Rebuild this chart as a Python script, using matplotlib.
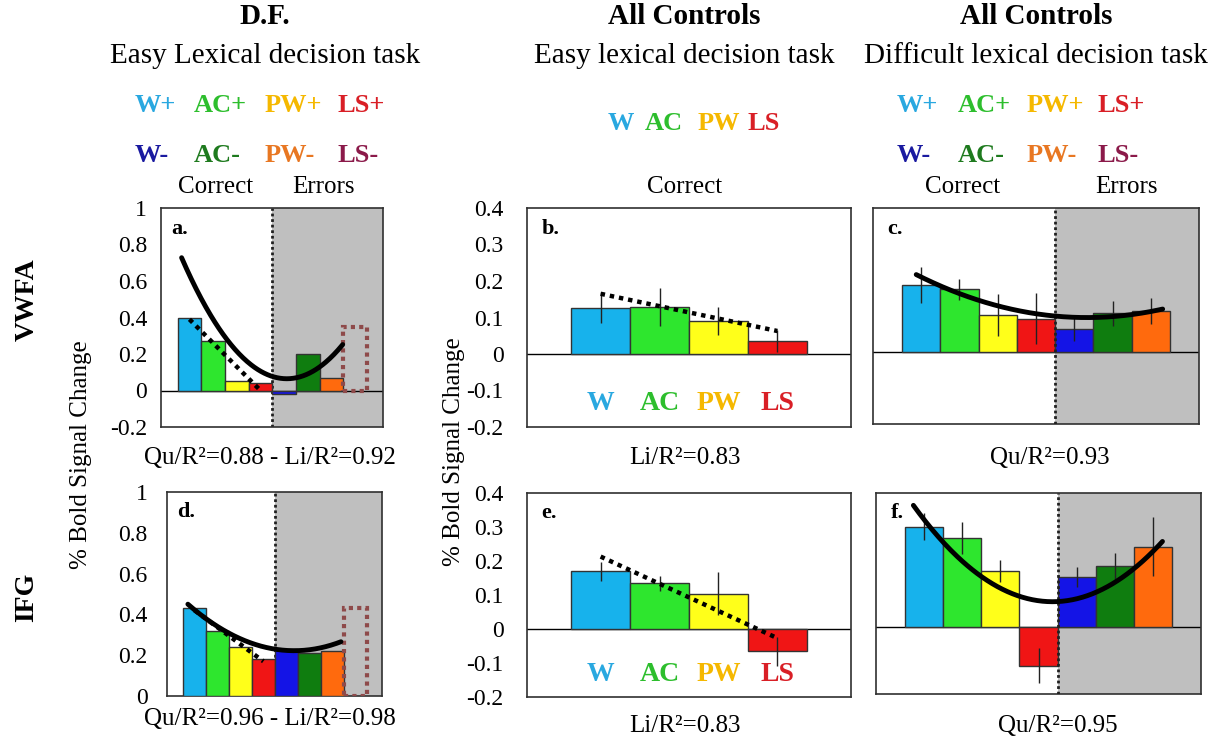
import numpy as np
import matplotlib
matplotlib.use('Agg')
import matplotlib.pyplot as plt

plt.rcParams['font.family'] = ['Liberation Serif', 'DejaVu Serif']

# ---------------- data ----------------
cond7 = ['W+', 'AC+', 'PW+', 'LS+', 'W-', 'AC-', 'PW-']
cond_minus = ['W-', 'AC-', 'PW-', 'LS-']
cond4 = ['W', 'AC', 'PW', 'LS']

# a. D.F. VWFA (easy task)
a_vals = [0.40, 0.27, 0.05, 0.04, -0.02, 0.20, 0.07]
a_ls_minus = 0.35
a_quad_x = [-0.33, 1.46, 4.03, 6.47]
a_quad_y = [0.715, 0.33, 0.04, 0.26]
a_lin_x = [0, 3]
a_lin_y = [0.39, 0.0]

# d. D.F. IFG (easy task)
d_vals = [0.43, 0.32, 0.24, 0.18, 0.23, 0.21, 0.22]
d_ls_minus = 0.43
d_quad_x = [-0.29, 1.52, 4.42, 6.38]
d_quad_y = [0.45, 0.307, 0.222, 0.266]
d_lin_x = [0, 3]
d_lin_y = [0.42, 0.17]

# b. All controls VWFA (easy task)
b_vals = [0.127, 0.130, 0.091, 0.036]
b_err = [0.043, 0.052, 0.038, 0.030]
b_lin_x = [0, 3]
b_lin_y = [0.165, 0.063]

# e. All controls IFG (easy task)
e_vals = [0.170, 0.134, 0.104, -0.066]
e_err = [0.028, 0.023, 0.064, 0.043]
e_lin_x = [0, 3]
e_lin_y = [0.213, -0.027]

# c. All controls VWFA (difficult task)
c_vals = [0.185, 0.174, 0.103, 0.093, 0.065, 0.107, 0.114]
c_err = [0.050, 0.030, 0.058, 0.070, 0.035, 0.035, 0.035]
c_quad_x = [-0.13, 1.0, 3.96, 6.31]
c_quad_y = [0.205, 0.179, 0.086, 0.123]

# f. All controls IFG (difficult task)
f_vals = [0.300, 0.266, 0.167, -0.115, 0.148, 0.182, 0.239]
f_err = [0.040, 0.048, 0.032, 0.052, 0.030, 0.040, 0.088]
f_quad_x = [-0.28, 0.96, 3.27, 6.25]
f_quad_y = [0.343, 0.239, 0.052, 0.261]

yticks_df = [1, 0.8, 0.6, 0.4, 0.2, 0, -0.2]
yticks_ctrl = [0.4, 0.3, 0.2, 0.1, 0, -0.1, -0.2]

# ---------------- style ----------------
bar_colors = ['#17B2EC', '#2EE62E', '#FFFF1A', '#F01515', '#1414E6', '#0F7D0F', '#FF6A0D']
leg_plus = ['#29A8E0', '#2DBE2D', '#F5B800', '#D91F26']
leg_minus = ['#1A1AA0', '#1E7A1E', '#E87722', '#8B1A4A']
ls_minus_col = '#8E4A4A'
shade = '#BFBFBF'

W, H = 1225, 743
fig = plt.figure(figsize=(W / 100, H / 100), dpi=100)


def ax_at(l, t, r, b):
    return fig.add_axes([l / W, 1 - b / H, (r - l) / W, (b - t) / H])


def ftext(x, y, s, **kw):
    kw.setdefault('ha', 'center')
    kw.setdefault('va', 'center')
    fig.text(x / W, 1 - y / H, s, **kw)


def base(ax, xlim, ylim, ticks, pad, letter):
    ax.set_xlim(*xlim)
    ax.set_ylim(*ylim)
    ax.set_xticks([])
    if ticks is None:
        ax.set_yticks([])
    else:
        ax.set_yticks(ticks)
        ax.set_yticklabels([('%g' % t) for t in ticks])
        ax.tick_params(axis='y', length=0, pad=pad, labelsize=17)
    for sp in ax.spines.values():
        sp.set_color('#303030')
        sp.set_linewidth(1.2)
    ax.text(0.045, 0.95, letter, transform=ax.transAxes, ha='left', va='top',
            fontsize=16, fontweight='bold', zorder=10)


def quad(ax, xs, ys):
    p = np.polyfit(xs, ys, 2)
    xx = np.linspace(min(xs), max(xs), 200)
    ax.plot(xx, np.polyval(p, xx), color='black', lw=3.5, zorder=6,
            solid_capstyle='round')


def lin(ax, xs, ys):
    ax.plot(xs, ys, color='black', lw=3.2, linestyle=(0, (1, 1.1)),
            dash_capstyle='butt', zorder=6)


def df_panel(ax, vals, lsm, qx, qy, lx, ly, ylim, ticks, pad, letter, zero_line):
    base(ax, (-1.2, 8.17), ylim, ticks, pad, letter)
    ax.axvspan(3.5, 9, color=shade, zorder=0, lw=0)
    ax.axvline(3.5, color='#202020', lw=2, linestyle=(0, (1, 1)), zorder=1)
    if zero_line:
        ax.axhline(0, color='black', lw=1, zorder=2)
    x = np.arange(len(vals))
    ax.bar(x, vals, width=1, color=bar_colors, edgecolor='#333333', lw=1, zorder=3)
    ax.bar([7], [lsm], width=1, fill=False, edgecolor=ls_minus_col, lw=3,
           linestyle=(0, (1, 1)), zorder=3)
    lin(ax, lx, ly)
    quad(ax, qx, qy)


def ctrl_easy(ax, vals, err, lx, ly, letter):
    base(ax, (-1.25, 4.25), (-0.2, 0.4), yticks_ctrl, 17, letter)
    ax.axhline(0, color='black', lw=1, zorder=2)
    x = np.arange(len(vals))
    ax.bar(x, vals, width=1, color=bar_colors[:4], edgecolor='#333333', lw=1, zorder=3)
    ax.errorbar(x, vals, yerr=err, fmt='none', ecolor='#222222', elinewidth=1,
                capsize=0, zorder=4)
    lin(ax, lx, ly)
    for xi, lab, c in zip(x, cond4, leg_plus):
        ax.text(xi, -0.135, lab, ha='center', va='center', fontsize=20,
                fontweight='bold', color=c, zorder=5)


def ctrl_diff(ax, vals, err, qx, qy, letter):
    base(ax, (-1.26, 7.26), (-0.2, 0.4), None, 0, letter)
    ax.axvspan(3.5, 8, color=shade, zorder=0, lw=0)
    ax.axvline(3.5, color='#202020', lw=2, linestyle=(0, (1, 1)), zorder=5)
    ax.axhline(0, color='black', lw=1, zorder=2)
    x = np.arange(len(vals))
    ax.bar(x, vals, width=1, color=bar_colors, edgecolor='#333333', lw=1, zorder=3)
    ax.errorbar(x, vals, yerr=err, fmt='none', ecolor='#222222', elinewidth=1,
                capsize=0, zorder=4)
    quad(ax, qx, qy)


# ---------------- panels ----------------
ax_a = ax_at(161, 208, 383, 427)
df_panel(ax_a, a_vals, a_ls_minus, a_quad_x, a_quad_y, a_lin_x, a_lin_y,
         (-0.2, 1.0), yticks_df, 10, 'a.', True)
ax_d = ax_at(167, 492, 382, 696)
df_panel(ax_d, d_vals, d_ls_minus, d_quad_x, d_quad_y, d_lin_x, d_lin_y,
         (0, 1.0), yticks_df[:-1], 14, 'd.', False)

ax_b = ax_at(527, 208, 851, 427)
ctrl_easy(ax_b, b_vals, b_err, b_lin_x, b_lin_y, 'b.')
ax_e = ax_at(527, 493, 851, 697)
ctrl_easy(ax_e, e_vals, e_err, e_lin_x, e_lin_y, 'e.')

ax_c = ax_at(873, 208, 1199, 424)
ctrl_diff(ax_c, c_vals, c_err, c_quad_x, c_quad_y, 'c.')
ax_f = ax_at(876, 493, 1201, 694)
ctrl_diff(ax_f, f_vals, f_err, f_quad_x, f_quad_y, 'f.')

# ---------------- headers ----------------
ftext(265, 16, 'D.F.', fontsize=21, fontweight='bold')
ftext(265, 56, 'Easy Lexical decision task', fontsize=21)
ftext(684, 16, 'All Controls', fontsize=21, fontweight='bold')
ftext(684, 56, 'Easy lexical decision task', fontsize=21)
ftext(1036, 16, 'All Controls', fontsize=21, fontweight='bold')
ftext(1036, 56, 'Difficult lexical decision task', fontsize=21)

# legends
for xs in ([135, 194, 265, 338], [897, 958, 1027, 1097]):
    for xi, lab, c in zip(xs, cond7[:4], leg_plus):
        ftext(xi, 106, lab, ha='left', fontsize=19, fontweight='bold', color=c)
    for xi, lab, c in zip(xs, cond_minus, leg_minus):
        ftext(xi, 155, lab, ha='left', fontsize=19, fontweight='bold', color=c)
for xi, lab, c in zip([608, 645, 698, 747], cond4, leg_plus):
    ftext(xi, 124, lab, ha='left', fontsize=19, fontweight='bold', color=c)

ftext(216, 187, 'Correct', fontsize=18)
ftext(323, 187, 'Errors', fontsize=18)
ftext(685, 187, 'Correct', fontsize=18)
ftext(963, 187, 'Correct', fontsize=18)
ftext(1126, 187, 'Errors', fontsize=18)

# row labels
ftext(27, 300, 'VWFA', fontsize=20, fontweight='bold', rotation=90)
ftext(27, 597, 'IFG', fontsize=20, fontweight='bold', rotation=90)
ftext(81, 455, '% Bold Signal Change', fontsize=18, rotation=90)
ftext(454, 452, '% Bold Signal Change', fontsize=18, rotation=90)

# fit annotations
ftext(270, 458, 'Qu/R²=0.88 - Li/R²=0.92', fontsize=18)
ftext(685, 458, 'Li/R²=0.83', fontsize=18)
ftext(1050, 458, 'Qu/R²=0.93', fontsize=18)
ftext(270, 719, 'Qu/R²=0.96 - Li/R²=0.98', fontsize=18)
ftext(685, 726, 'Li/R²=0.83', fontsize=18)
ftext(1058, 726, 'Qu/R²=0.95', fontsize=18)

fig.savefig('out.png', dpi=100)
